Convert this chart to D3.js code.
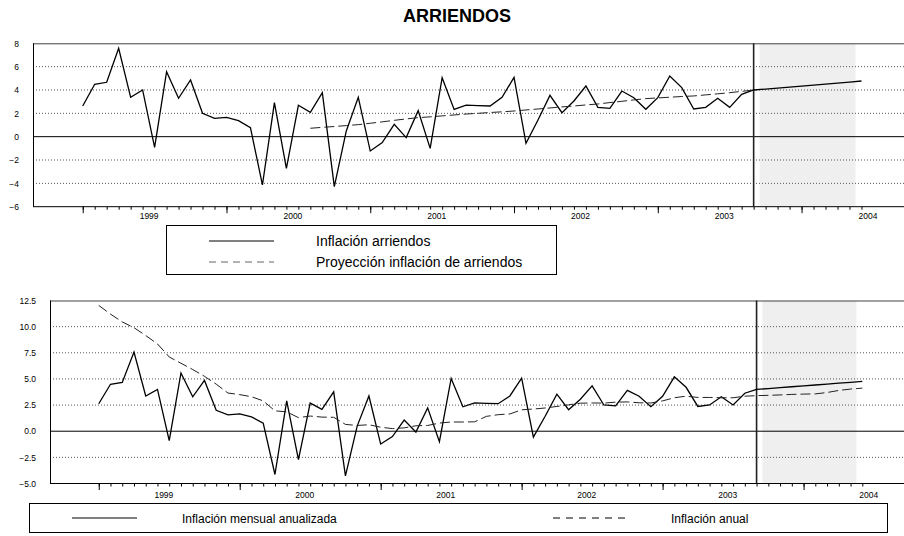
<!DOCTYPE html>
<meta charset="utf-8">
<script src="https://d3js.org/d3.v7.min.js"></script>
<style>
    body{margin:0;background:#fff;}
    text{font-family:"Liberation Sans",Arial,sans-serif;fill:#000;}
</style>
<body>
<div id="chart"></div>
<script>
// etiquetas de año (centradas en cada año de 12 meses)
const anios=["1999","2000","2001","2002","2003","2004"];

// inflación mensual anualizada de arriendos (incluye proyección desde el mes 56)
const mensual=[2.63,4.49,4.66,7.57,3.37,4.0,-0.91,5.57,3.29,4.86,
    2.0,1.57,1.66,1.37,0.77,-4.14,2.91,-2.71,2.69,2.09,
    3.77,-4.28,0.49,3.37,-1.23,-0.51,1.06,-0.08,2.23,-1.0,
    5.05,2.34,2.71,2.66,2.63,3.37,5.08,-0.57,1.43,3.54,
    2.06,3.06,4.34,2.51,2.43,3.91,3.34,2.35,3.34,5.2,
    4.2,2.37,2.51,3.29,2.51,3.63,4.0,4.08,4.16,4.25,
    4.33,4.42,4.51,4.59,4.68,4.77];

// proyección inflación de arriendos (panel superior)
const proyeccion=[null,null,null,null,null,null,null,null,null,null,
    null,null,null,null,null,null,null,null,null,0.72,
    0.80,0.87,0.95,1.03,1.15,1.27,1.40,1.52,1.63,1.70,
    1.78,1.86,1.94,2.00,2.07,2.13,2.20,2.29,2.37,2.46,
    2.55,2.63,2.72,2.80,2.92,3.03,3.15,3.26,3.32,3.38,
    3.44,3.49,3.58,3.67,3.77,3.88,4.00];

// inflación anual de arriendos (panel inferior)
const anual=[12.03,11.2,10.45,9.9,9.15,8.35,7.1,6.5,5.9,5.25,
    4.5,3.65,3.5,3.3,2.9,1.95,1.85,1.3,1.45,1.35,
    1.33,0.65,0.55,0.62,0.38,0.25,0.32,0.52,0.55,0.78,
    0.88,0.88,0.9,1.42,1.58,1.65,2.05,2.12,2.22,2.37,
    2.52,2.68,2.7,2.69,2.78,2.8,2.72,2.7,2.9,3.2,
    3.35,3.23,3.23,3.2,3.2,3.35,3.4,3.43,3.47,3.52,
    3.55,3.57,3.7,3.9,4.03,4.12];

const ultimoDato=56;          // último dato observado
const zonaProyeccion=[56.5,64.5];
const ticksSup=[-6,-4,-2,0,2,4,6,8];
const ticksInf=[-5,-2.5,0,2.5,5,7.5,10,12.5];

const W=904,H=536;
const svg=d3.select("#chart").append("svg")
    .attr("width",W).attr("height",H);

svg.append("text")
    .attr("x",457).attr("y",21.5)
    .attr("text-anchor","middle")
    .style("font-size","18px").style("font-weight","bold")
    .text("ARRIENDOS");

function panel(p){
    const g=svg.append("g");
    const x=d3.scaleLinear().domain([-4.15,68.55]).range([p.left,W]);
    const y=d3.scaleLinear().domain(p.yDomain).range([p.bottom,p.top]);
    const meses=d3.range(mensual.length);

    g.append("rect")
        .attr("x",x(zonaProyeccion[0])).attr("y",p.top)
        .attr("width",x(zonaProyeccion[1])-x(zonaProyeccion[0]))
        .attr("height",p.bottom-p.top)
        .attr("fill","#efefef");

    g.selectAll(".grid")
        .data(p.yTicks.filter(d=>d!==0&&d!==p.yDomain[0]&&d!==p.yDomain[1]))
        .join("line")
            .attr("x1",p.left).attr("x2",W)
            .attr("y1",d=>y(d)).attr("y2",d=>y(d))
            .attr("stroke","#555").attr("stroke-width",1)
            .attr("stroke-dasharray","1,2");

    g.append("line")
        .attr("x1",p.left).attr("x2",W)
        .attr("y1",y(0)).attr("y2",y(0))
        .attr("stroke","#000").attr("stroke-width",1);

    g.append("line")
        .attr("x1",p.left).attr("x2",W)
        .attr("y1",p.top+0.5).attr("y2",p.top+0.5)
        .attr("stroke","#444");
    g.append("line")
        .attr("x1",p.left+0.5).attr("x2",p.left+0.5)
        .attr("y1",p.top).attr("y2",p.bottom)
        .attr("stroke","#000");
    g.append("line")
        .attr("x1",p.left).attr("x2",W)
        .attr("y1",p.bottom).attr("y2",p.bottom)
        .attr("stroke","#000");

    g.append("line")
        .attr("x1",x(ultimoDato)).attr("x2",x(ultimoDato))
        .attr("y1",p.top).attr("y2",p.bottom)
        .attr("stroke","#222").attr("stroke-width",1.6);

    p.series.forEach(s=>{
        const line=d3.line()
            .defined(d=>s.values[d]!=null)
            .x(d=>x(d)).y(d=>y(s.values[d]));
        g.append("path")
            .datum(meses)
            .attr("fill","none")
            .attr("stroke",s.color)
            .attr("stroke-width",s.width)
            .attr("stroke-dasharray",s.dash)
            .attr("d",line);
    });

    // ejes
    const minor=g.append("g").attr("transform",`translate(0,${p.bottom})`)
        .call(d3.axisBottom(x).tickValues(meses).tickSize(3).tickFormat(""));
    const major=g.append("g").attr("transform",`translate(0,${p.bottom})`)
        .call(d3.axisBottom(x).tickValues(meses.filter(d=>d%12===0)).tickSize(6.5).tickFormat(""));
    const labels=g.append("g").attr("transform",`translate(0,${p.bottom})`)
        .call(d3.axisBottom(x).tickValues(anios.map((a,i)=>5.5+12*i))
            .tickSize(0).tickPadding(p.xPad).tickFormat((d,i)=>anios[i]));
    const yAxis=g.append("g").attr("transform",`translate(${p.left},0)`)
        .call(d3.axisLeft(y).tickValues(p.yTicks).tickSize(0).tickPadding(14).tickFormat(p.fmt));
    [minor,major,labels,yAxis].forEach(a=>{
        a.select(".domain").remove();
        a.selectAll("line").attr("stroke","#000");
        a.selectAll("text").style("font-size","8.5px").style("font-family","'Liberation Sans',Arial,sans-serif");
    });
}

panel({left:33,top:43.3,bottom:206.7,yDomain:[-6,8],yTicks:ticksSup,
    fmt:d3.format("d"),xPad:6,
    series:[
        {values:mensual,color:"#000",width:1.3,dash:null},
        {values:proyeccion,color:"#222",width:1,dash:"10,4"}
    ]});

panel({left:50,top:300.5,bottom:483.5,yDomain:[-5,12.5],yTicks:ticksInf,
    fmt:d3.format(".1f"),xPad:8.3,
    series:[
        {values:mensual,color:"#000",width:1.3,dash:null},
        {values:anual,color:"#222",width:1,dash:"10,4"}
    ]});

// leyenda superior
const leg1=svg.append("g");
leg1.append("rect").attr("x",166.5).attr("y",225.5).attr("width",390).attr("height",49)
    .attr("fill","none").attr("stroke","#000");
[{t:"Inflación arriendos",dash:null,y:241},
 {t:"Proyección inflación de arriendos",dash:"7,5",y:262}].forEach(d=>{
    leg1.append("line").attr("x1",209).attr("x2",274).attr("y1",d.y).attr("y2",d.y)
        .attr("stroke",d.dash?"#666":"#000").attr("stroke-width",1)
        .attr("stroke-dasharray",d.dash);
    leg1.append("text").attr("x",316).attr("y",d.y+5)
        .style("font-size","14px").text(d.t);
});

// leyenda inferior
const leg2=svg.append("g");
leg2.append("rect").attr("x",29.5).attr("y",503.5).attr("width",858).attr("height",29)
    .attr("fill","none").attr("stroke","#000");
[{t:"Inflación mensual anualizada",dash:null,x1:72,x2:137,tx:182},
 {t:"Inflación anual",dash:"7,6",x1:553,x2:629,tx:671}].forEach(d=>{
    leg2.append("line").attr("x1",d.x1).attr("x2",d.x2).attr("y1",518).attr("y2",518)
        .attr("stroke","#000").attr("stroke-width",1)
        .attr("stroke-dasharray",d.dash);
    leg2.append("text").attr("x",d.tx).attr("y",522.5)
        .style("font-size","12px").text(d.t);
});
</script>
</body>
